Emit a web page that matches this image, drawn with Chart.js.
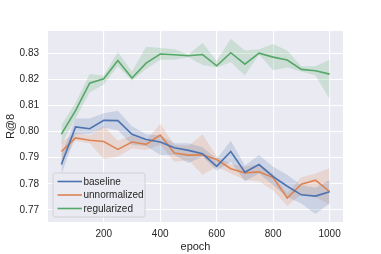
<!DOCTYPE html>
<html>
<head>
<meta charset="utf-8">
<script src="https://cdn.jsdelivr.net/npm/chart.js@4/dist/chart.umd.min.js"></script>
<style>
  html, body { margin: 0; padding: 0; background: #fff; }
  #wrap { width: 381px; height: 254px; }
</style>
</head>
<body>
<div id="wrap"><canvas id="chart" width="381" height="254"></canvas></div>
<script>
// epochs and tick labels
const epochs = [50, 100, 150, 200, 250, 300, 350, 400, 450, 500, 550, 600, 650, 700, 750, 800, 850, 900, 950, 1000];
const xTicks = [200, 400, 600, 800, 1000];
const yTicks = [0.77, 0.78, 0.79, 0.80, 0.81, 0.82, 0.83];

// baseline: mean and band
const baseline = [0.7874, 0.8018, 0.8011, 0.8043, 0.8042, 0.7990, 0.7970, 0.7960, 0.7938, 0.7928,
                  0.7915, 0.7867, 0.7924, 0.7845, 0.7874, 0.7828, 0.7791, 0.7758, 0.7753, 0.7770];
const baselineLow = [0.7835, 0.7990, 0.7990, 0.8015, 0.8005, 0.7950, 0.7945, 0.7910, 0.7910, 0.7880,
                     0.7905, 0.7850, 0.7885, 0.7810, 0.7840, 0.7795, 0.7750, 0.7725, 0.7685, 0.7725];
const baselineHigh = [0.7910, 0.8050, 0.8050, 0.8070, 0.8080, 0.8020, 0.7990, 0.7985, 0.7955, 0.7955,
                      0.7940, 0.7895, 0.7965, 0.7870, 0.7910, 0.7865, 0.7835, 0.7795, 0.7785, 0.7815];

// unnormalized
const unnormalized = [0.7924, 0.7976, 0.7967, 0.7962, 0.7932, 0.7960, 0.7951, 0.7987, 0.7918, 0.7910,
                      0.7911, 0.7893, 0.7858, 0.7842, 0.7846, 0.7824, 0.7746, 0.7799, 0.7814, 0.7770];
const unnormalizedLow = [0.7880, 0.7965, 0.7955, 0.7895, 0.7905, 0.7935, 0.7930, 0.7950, 0.7885, 0.7890,
                         0.7835, 0.7865, 0.7840, 0.7815, 0.7810, 0.7775, 0.7715, 0.7760, 0.7750, 0.7720];
const unnormalizedHigh = [0.7960, 0.7995, 0.7985, 0.8020, 0.7965, 0.7985, 0.7965, 0.8030, 0.7950, 0.7945,
                          0.7990, 0.7905, 0.7875, 0.7865, 0.7875, 0.7840, 0.7765, 0.7825, 0.7840, 0.7860];

// regularized
const regularized = [0.7990, 0.8080, 0.8185, 0.8202, 0.8272, 0.8205, 0.8262, 0.8297, 0.8294, 0.8290,
                     0.8295, 0.8252, 0.8302, 0.8258, 0.8300, 0.8285, 0.8274, 0.8238, 0.8233, 0.8220];
const regularizedLow = [0.7950, 0.8050, 0.8150, 0.8180, 0.8250, 0.8195, 0.8240, 0.8275, 0.8275, 0.8285,
                        0.8255, 0.8245, 0.8265, 0.8215, 0.8295, 0.8235, 0.8245, 0.8230, 0.8215, 0.8125];
const regularizedHigh = [0.8025, 0.8110, 0.8220, 0.8215, 0.8305, 0.8230, 0.8325, 0.8320, 0.8315, 0.8295,
                         0.8340, 0.8270, 0.8355, 0.8310, 0.8315, 0.8335, 0.8310, 0.8250, 0.8250, 0.8275];

const seriesNames = ['baseline', 'unnormalized', 'regularized'];
const seriesColors = ['#4c72b0', '#dd8452', '#55a868'];

function pts(values)
{
    return epochs.map((e, i) => ({x: e, y: values[i]}));
}

function bandFill(color)
{
    let r = parseInt(color.slice(1, 3), 16);
    let g = parseInt(color.slice(3, 5), 16);
    let b = parseInt(color.slice(5, 7), 16);
    return 'rgba(' + r + ',' + g + ',' + b + ',0.2)';
}

const series = [
    [baseline, baselineLow, baselineHigh],
    [unnormalized, unnormalizedLow, unnormalizedHigh],
    [regularized, regularizedLow, regularizedHigh]
];

let datasets = [];
series.forEach((s, i) => {
    let c = seriesColors[i];
    datasets.push({label: '_low', data: pts(s[1]), borderWidth: 0, pointRadius: 0, fill: false, order: 10});
    datasets.push({label: '_high', data: pts(s[2]), borderWidth: 0, pointRadius: 0,
                   fill: '-1', backgroundColor: bandFill(c), order: 10});
});
series.forEach((s, i) => {
    datasets.push({label: seriesNames[i], data: pts(s[0]), borderColor: seriesColors[i],
                   borderWidth: 1.6, pointRadius: 0, fill: false, order: 1});
});

const legendPlugin = {
    id: 'innerLegend',
    afterDatasetsDraw(chart)
    {
        let ctx = chart.ctx;
        let area = chart.chartArea;
        let x = area.left + 5, w = 92, h = 44;
        let y = area.bottom - 5 - h;
        ctx.save();
        ctx.fillStyle = 'rgba(234,234,242,0.85)';
        ctx.strokeStyle = '#cccccc';
        ctx.lineWidth = 0.8;
        ctx.beginPath();
        ctx.roundRect(x, y, w, h, 2);
        ctx.fill();
        ctx.stroke();
        ctx.font = '10px "Liberation Sans", Arial, sans-serif';
        ctx.textBaseline = 'middle';
        seriesNames.forEach((name, i) => {
            let ly = y + 8.5 + i * 13.5;
            ctx.strokeStyle = seriesColors[i];
            ctx.lineWidth = 1.6;
            ctx.beginPath();
            ctx.moveTo(x + 4.5, ly);
            ctx.lineTo(x + 29, ly);
            ctx.stroke();
            ctx.fillStyle = '#262626';
            ctx.fillText(name, x + 30.5, ly + 0.5);
        });
        ctx.restore();
    }
};

const bgPlugin = {
    id: 'plotBg',
    beforeDraw(chart)
    {
        let a = chart.chartArea;
        chart.ctx.save();
        chart.ctx.fillStyle = '#eaeaf2';
        chart.ctx.fillRect(a.left, a.top, a.right - a.left, a.bottom - a.top);
        chart.ctx.restore();
    }
};

const tickFont = {family: '"Liberation Sans", Arial, sans-serif', size: 10};
const titleFont = {family: '"Liberation Sans", Arial, sans-serif', size: 11};

new Chart(document.getElementById('chart').getContext('2d'), {
    type: 'line',
    data: {datasets: datasets},
    options: {
        responsive: false,
        animation: false,
        layout: {padding: {top: 31, right: 38, left: 0, bottom: 0}},
        plugins: {legend: {display: false}, tooltip: {enabled: false}},
        scales: {
            x: {
                type: 'linear',
                min: 2.5,
                max: 1047.5,
                afterBuildTicks: (scale) => { scale.ticks = xTicks.map(v => ({value: v})); },
                afterFit: (scale) => { scale.height = 32; },
                grid: {color: '#ffffff', lineWidth: 1.1, drawTicks: false},
                border: {display: false},
                ticks: {font: tickFont, color: '#262626', padding: 6, maxRotation: 0, callback: (v) => String(v)},
                title: {display: true, text: 'epoch', font: titleFont, color: '#262626', padding: {top: 0, bottom: 0}}
            },
            y: {
                min: 0.7654,
                max: 0.8385,
                afterBuildTicks: (scale) => { scale.ticks = yTicks.map(v => ({value: v})); },
                afterFit: (scale) => { scale.width = 48; },
                grid: {color: '#ffffff', lineWidth: 1.1, drawTicks: false},
                border: {display: false},
                ticks: {font: tickFont, color: '#262626', padding: 9, callback: (v) => v.toFixed(2)},
                title: {display: true, text: 'R@8', font: titleFont, color: '#262626', padding: {top: 4, bottom: 0}}
            }
        }
    },
    plugins: [bgPlugin, legendPlugin]
});
</script>
</body>
</html>
